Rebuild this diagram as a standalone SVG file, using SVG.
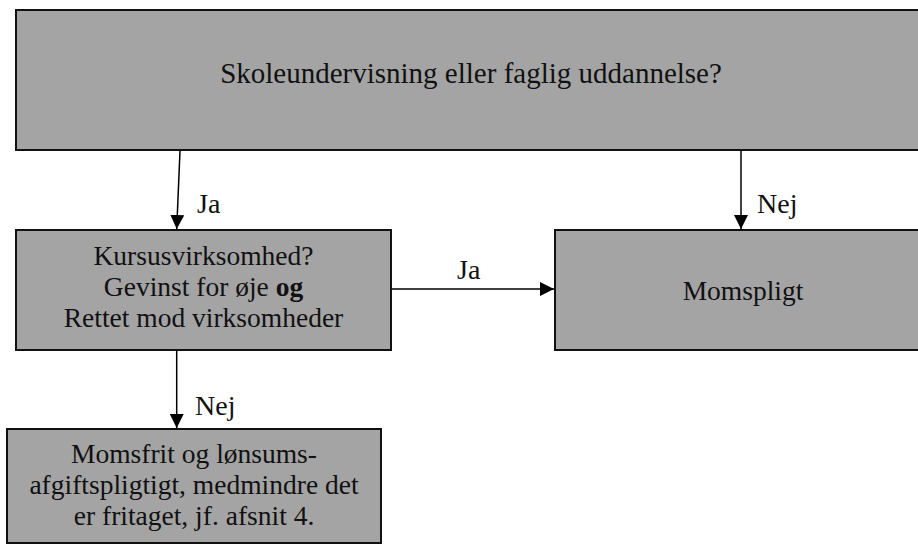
<svg xmlns="http://www.w3.org/2000/svg" width="918" height="544" viewBox="0 0 918 544">
<style>
  .box { fill: #a4a4a4; stroke: #111; stroke-width: 2; }
  text { font-family: "Liberation Serif", "Times New Roman", "DejaVu Serif", serif; fill: #111; }
  .t { font-size: 27.5px; text-anchor: middle; }
  .lbl { font-size: 28px; }
  .conn { stroke: #000; stroke-width: 1.5; fill: none; marker-end: url(#ah); }
</style>
<defs>
  <marker id="ah" markerWidth="14" markerHeight="14" refX="14" refY="7" orient="auto" markerUnits="userSpaceOnUse">
    <path d="M0,0 L14,7 L0,14 z" fill="#000"/>
  </marker>
</defs>
<rect width="918" height="544" fill="#fff"/>
<g id="n-skole">
  <rect class="box" x="16" y="10" width="912" height="140"/>
  <text class="t" x="471" y="83" style="font-size:29px">Skoleundervisning eller faglig uddannelse?</text>
</g>
<g id="n-kursus">
  <rect class="box" x="16" y="230" width="375" height="120"/>
  <text class="t" x="203.5" y="265">Kursusvirksomhed?</text>
  <text class="t" x="203.5" y="296">Gevinst for øje <tspan font-weight="bold">og</tspan></text>
  <text class="t" x="203.5" y="327">Rettet mod virksomheder</text>
</g>
<g id="n-moms">
  <rect class="box" x="555" y="230" width="374" height="120"/>
  <text class="t" x="743" y="300">Momspligt</text>
</g>
<g id="n-fri">
  <rect class="box" x="7" y="429" width="374" height="114"/>
  <text class="t" x="194" y="463">Momsfrit og lønsums-</text>
  <text class="t" x="194" y="494">afgiftspligtigt, medmindre det</text>
  <text class="t" x="194" y="525">er fritaget, jf. afsnit 4.</text>
</g>
<g id="connectors">
  <line class="conn" x1="180" y1="151" x2="176.7" y2="229"/>
  <text class="lbl" x="197" y="213">Ja</text>
  <line class="conn" x1="741" y1="151" x2="741" y2="229"/>
  <text class="lbl" x="757" y="213">Nej</text>
  <line class="conn" x1="392" y1="289" x2="554" y2="289"/>
  <text class="lbl" x="457" y="279">Ja</text>
  <line class="conn" x1="176.7" y1="351" x2="176.7" y2="428"/>
  <text class="lbl" x="195" y="415">Nej</text>
</g>
</svg>
